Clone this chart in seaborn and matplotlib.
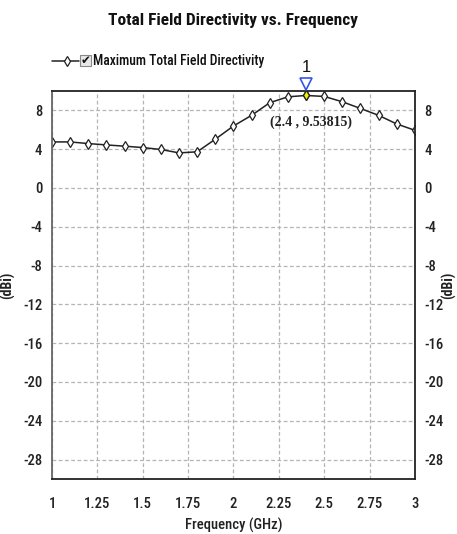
import matplotlib
matplotlib.use("Agg")
import matplotlib.pyplot as plt
import seaborn as sns
import pandas as pd
from matplotlib.patches import Rectangle
from matplotlib.lines import Line2D

# Frequency sweep (GHz) and maximum total field directivity (dBi)
freq_ghz = [1.0, 1.1, 1.2, 1.3, 1.4, 1.5, 1.6, 1.7, 1.8, 1.9, 2.0,
            2.1, 2.2, 2.3, 2.4, 2.5, 2.6, 2.7, 2.8, 2.9, 3.0]
directivity_dbi = [4.75, 4.75, 4.58, 4.44, 4.31, 4.17, 3.97, 3.62, 3.73, 5.03, 6.39,
                   7.49, 8.79, 9.40, 9.53815, 9.44, 8.89, 8.20, 7.49, 6.60, 5.95]
x_ticks = [1, 1.25, 1.5, 1.75, 2, 2.25, 2.5, 2.75, 3]
x_tick_labels = ["1", "1.25", "1.5", "1.75", "2", "2.25", "2.5", "2.75", "3"]
y_ticks = [8, 4, 0, -4, -8, -12, -16, -20, -24, -28]
marker_freq = 2.4
marker_value = 9.53815

df = pd.DataFrame({"Frequency": freq_ghz, "Directivity": directivity_dbi})

sns.set_style("white")
plt.rcParams["font.family"] = ["Roboto Condensed", "DejaVu Sans"]
plt.rcParams["axes.unicode_minus"] = False

fig = plt.figure(figsize=(4.57, 5.34), dpi=100)
ax = fig.add_axes([0.1138, 0.103, 0.794, 0.7266])

sns.lineplot(data=df, x="Frequency", y="Directivity", ax=ax, color="#222222",
             linewidth=1.1, marker="d", markersize=5.2, markerfacecolor="white",
             markeredgecolor="#222222", markeredgewidth=0.9, legend=False)

ax.set_xlim(1, 3)
ax.set_ylim(-30, 10)
ax.set_xticks(x_ticks)
ax.set_xticklabels(x_tick_labels)
ax.set_yticks(y_ticks)
ax.grid(True, color="#b4b4b4", linestyle=(0, (3, 2)), linewidth=0.9)
ax.tick_params(axis="both", length=0, labelsize=10.5, colors="#222222")
for lbl in ax.get_xticklabels() + ax.get_yticklabels():
    lbl.set_fontweight("medium")
ax.tick_params(axis="x", pad=13)
ax.tick_params(axis="y", pad=7)
ax.tick_params(axis="y", labelright=True, labelleft=True)
for lbl in ax.yaxis.get_ticklabels(which="both"):
    lbl.set_fontweight("medium")
for s in ax.spines.values():
    s.set_visible(True)
    s.set_linewidth(1.3)
    s.set_color("#222222")
ax.spines["left"].set_color("#666666")

ax.set_xlabel("Frequency (GHz)", fontsize=10.5, fontweight="medium", color="#222222")
ax.xaxis.set_label_coords(0.5, -0.1)
ax.set_ylabel("(dBi)", fontsize=10, fontweight="bold", color="#222222")
ax.yaxis.set_label_coords(-0.102, 0.5)
ax.text(1.094, 0.5, "(dBi)", rotation=90, ha="center", va="center", transform=ax.transAxes,
        fontsize=10, fontweight="bold", color="#222222")

# Title
fig.text(0.51, 0.962, "Total Field Directivity vs. Frequency", ha="center", va="center",
         fontsize=12.5, fontweight="bold", color="#111111")

# Legend row: line with marker, checkbox and series name
legend_y = 0.886
fig.add_artist(Line2D([0.114, 0.173], [legend_y, legend_y], color="#222222", linewidth=1.1,
                      transform=fig.transFigure))
fig.add_artist(Line2D([0.1466], [legend_y], marker="d", markersize=5, markerfacecolor="white",
                      markeredgecolor="#222222", markeredgewidth=0.9, transform=fig.transFigure))
fig.add_artist(Rectangle((0.175, legend_y - 0.0105), 0.024, 0.021, transform=fig.transFigure,
                         facecolor="#e8e8e8", edgecolor="#888888", linewidth=0.8))
fig.text(0.187, legend_y, "\u2714", ha="center", va="center", fontsize=8.5,
         family=["DejaVu Sans"], color="#111111")
fig.text(0.204, legend_y, "Maximum Total Field Directivity", ha="left", va="center",
         fontsize=9.8, fontweight="medium", color="#111111")

# Marker 1 at the peak
ax.plot([marker_freq], [marker_value], marker="d", markersize=5.2, markerfacecolor="#f0f000",
        markeredgecolor="#222222", markeredgewidth=0.9, zorder=5)
ax.plot([marker_freq], [10.7], marker="v", markersize=9, markerfacecolor="white",
        markeredgecolor="#3355ee", markeredgewidth=1.2, clip_on=False, zorder=6)
ax.text(marker_freq, 11.7, "1", ha="center", va="bottom", fontsize=12, color="#111111",
        family=["Liberation Sans"])
ax.text(2.427, 6.8, f"({marker_freq} , {marker_value})", ha="center", va="center",
        fontsize=10, fontweight="bold", color="#222222", family=["Liberation Serif", "DejaVu Serif"])

fig.savefig("out.png", dpi=100)
